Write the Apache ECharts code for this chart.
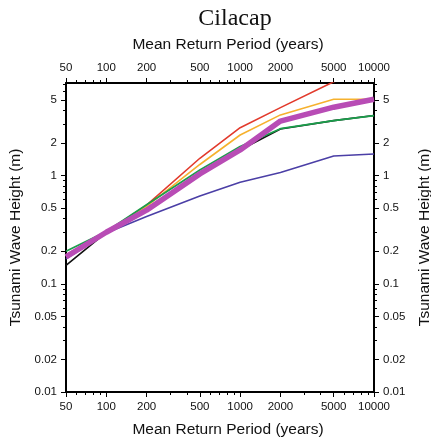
<!DOCTYPE html>
<html>
<head>
<meta charset="utf-8">
<script src="https://cdn.jsdelivr.net/npm/echarts@6/dist/echarts.min.js"></script>
<style>html,body{margin:0;padding:0;background:#fff}#c{width:431px;height:447px}</style>
</head>
<body>
<div id="c"></div>
<script>
const periods = [50, 100, 200, 500, 1000, 2000, 5000, 10000];
const redVals = [0.185, 0.30, 0.535, 1.45, 2.78, 4.26, 7.4, 9.5];
const orangeVals = [0.185, 0.30, 0.52, 1.27, 2.38, 3.65, 5.1, 5.1];
const greenVals = [0.20, 0.305, 0.54, 1.13, 1.86, 2.72, 3.23, 3.6];
const blackVals = [0.148, 0.30, 0.50, 1.02, 1.73, 2.7, 3.23, 3.6];
const blueVals = [0.17, 0.295, 0.42, 0.65, 0.87, 1.07, 1.52, 1.59];
const magentaVals = [0.178, 0.30, 0.48, 1.04, 1.73, 3.2, 4.3, 5.1];

const xTicks = [50, 100, 200, 500, 1000, 2000, 5000, 10000];
const xMinorTicks = [60, 70, 80, 90, 300, 400, 600, 700, 800, 900, 3000, 4000, 6000, 7000, 8000, 9000];
const yTicks = [0.01, 0.02, 0.05, 0.1, 0.2, 0.5, 1, 2, 5];
const yMinorTicks = [0.03, 0.04, 0.06, 0.07, 0.08, 0.09, 0.3, 0.4, 0.6, 0.7, 0.8, 0.9, 3, 4, 6, 7];

const L = Math.log10;
const xMin = L(50), xMax = L(10000);
const yMin = L(0.01), yMax = L(7.2);
const font = 'Liberation Sans, Arial, Helvetica, sans-serif';

function fmt(ticks) {
  return function (v) {
    const t = ticks.find(t => Math.abs(L(t) - v) < 1e-6);
    return t === undefined ? '' : String(t);
  };
}

function xAx(pos, major) {
  return {
    type: 'value', position: pos, min: xMin, max: xMax, offset: 0,
    name: major ? 'Mean Return Period (years)' : '',
    nameLocation: 'middle', nameGap: 30,
    nameTextStyle: { fontFamily: font, fontSize: 15.5, color: '#111', padding: [0, 0, 0, 16] },
    axisLine: { show: major, onZero: false, lineStyle: { color: '#000', width: 2 } },
    axisTick: {
      show: true, inside: false, length: major ? 5 : 3,
      customValues: (major ? xTicks : xMinorTicks).map(L),
      lineStyle: { color: '#000', width: 1 }
    },
    axisLabel: {
      show: major, customValues: xTicks.map(L), formatter: fmt(xTicks),
      fontFamily: font, fontSize: 11.5, color: '#111', margin: 9
    },
    splitLine: { show: false }
  };
}

function yAx(pos, major) {
  return {
    type: 'value', position: pos, min: yMin, max: yMax, offset: 0,
    name: major ? 'Tsunami Wave Height (m)' : '',
    nameLocation: 'middle', nameGap: 42,
    nameTextStyle: { fontFamily: font, fontSize: 15.5, color: '#111' },
    axisLine: { show: major, onZero: false, lineStyle: { color: '#000', width: 2 } },
    axisTick: {
      show: true, inside: false, length: major ? 5 : 3,
      customValues: (major ? yTicks : yMinorTicks).map(L),
      lineStyle: { color: '#000', width: 1 }
    },
    axisLabel: {
      show: major, customValues: yTicks.map(L), formatter: fmt(yTicks),
      fontFamily: font, fontSize: 11.5, color: '#111', margin: 9
    },
    splitLine: { show: false }
  };
}

function ser(vals, color, width) {
  return {
    type: 'line', xAxisIndex: 0, yAxisIndex: 0,
    data: periods.map((p, i) => [L(p), L(vals[i])]),
    showSymbol: false, symbol: 'none', clip: true,
    lineStyle: { color: color, width: width, join: 'round' },
    silent: true, animation: false
  };
}

const chart = echarts.init(document.getElementById('c'), null, { renderer: 'canvas' });
chart.setOption({
  animation: false,
  backgroundColor: '#fff',
  title: {
    text: 'Cilacap', left: 230, top: 2, textAlign: 'center',
    textStyle: { fontFamily: 'Liberation Serif, Times New Roman, serif', fontSize: 24, fontWeight: 'normal', color: '#111' }
  },
  grid: { left: 66, right: 57, top: 83, bottom: 55, outerBoundsMode: 'none' },
  xAxis: [xAx('bottom', true), xAx('top', true), xAx('bottom', false), xAx('top', false)],
  yAxis: [yAx('left', true), yAx('right', true), yAx('left', false), yAx('right', false)],
  series: [
    ser(blackVals, '#111111', 1.6),
    ser(blueVals, '#4b3fa6', 1.6),
    ser(redVals, '#e23a2c', 1.6),
    ser(orangeVals, '#f6b12e', 1.6),
    ser(greenVals, '#1a9e4b', 1.8),
    ser(magentaVals, '#b84cb5', 5.5)
  ]
});
</script>
</body>
</html>
